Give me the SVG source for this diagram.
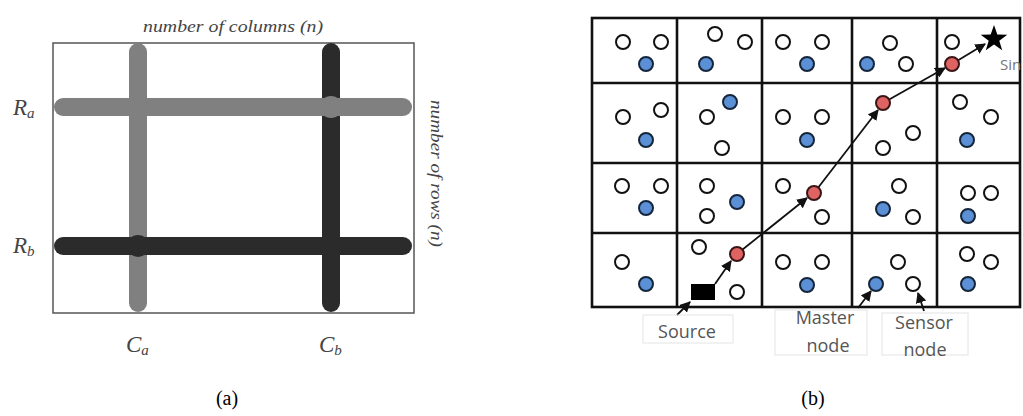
<svg xmlns="http://www.w3.org/2000/svg" width="1023" height="416" viewBox="0 0 1023 416">
<defs>
<marker id="ah" viewBox="0 0 10 10" refX="9" refY="5" markerWidth="6" markerHeight="6" orient="auto" markerUnits="strokeWidth">
<path d="M0,0 L10,5 L0,10 Z" fill="#111"/>
</marker>
<style>
.frame{fill:none;stroke:#555;stroke-width:1.5}
.barg{stroke:#808080;stroke-width:18;stroke-linecap:round}
.bard{stroke:#2b2b2b;stroke-width:18;stroke-linecap:round}
.lbl{font-family:"Liberation Serif",serif;font-style:italic;fill:#444}
.cap{font-family:"Liberation Serif",serif;font-size:20px;fill:#000;text-anchor:middle}
.grid{fill:none;stroke:#111;stroke-width:2.6}
.s{fill:#fff;stroke:#111;stroke-width:2}
.m{fill:#5b8fd6;stroke:#15253a;stroke-width:2}
.r{fill:#e06363;stroke:#3a1515;stroke-width:2}
.hop{stroke:#111;stroke-width:1.8;fill:none;marker-end:url(#ah)}
.txt{font-family:"Open Sans",sans-serif;font-size:18px;fill:#555;text-anchor:middle}
.box{fill:none;stroke:#e4e4e4;stroke-width:1}
</style>
</defs>

<!-- Panel (a) -->
<g id="panel-a">
<rect class="frame" x="53" y="43" width="361" height="270"/>
<g id="col-b"><line class="bard" x1="331" y1="52" x2="331" y2="303"/></g>
<g id="col-a"><line class="barg" x1="138" y1="52" x2="138" y2="303"/></g>
<g id="row-a"><line class="barg" x1="63" y1="107" x2="403" y2="107"/><circle cx="331" cy="107" r="11" fill="#808080"/></g>
<g id="row-b"><line class="bard" x1="63" y1="246" x2="403" y2="246"/><circle cx="138" cy="246" r="11" fill="#2b2b2b"/></g>
<text class="lbl" x="233" y="32" font-size="17" text-anchor="middle" textLength="180" lengthAdjust="spacingAndGlyphs" fill="#333">number of columns (n)</text>
<text class="lbl" transform="translate(431,100) rotate(90)" font-size="17" textLength="147" lengthAdjust="spacingAndGlyphs">number of rows (n)</text>
<text class="lbl" x="13" y="115" font-size="23">R<tspan font-size="15" dy="3">a</tspan></text>
<text class="lbl" x="13" y="253" font-size="23">R<tspan font-size="15" dy="3">b</tspan></text>
<text class="lbl" x="126" y="352" font-size="23">C<tspan font-size="15" dy="3">a</tspan></text>
<text class="lbl" x="319" y="352" font-size="23">C<tspan font-size="15" dy="3">b</tspan></text>
<text class="cap" x="227" y="405">(a)</text>
</g>

<!-- Panel (b) -->
<g id="grid">
<rect class="grid" x="592" y="18" width="428" height="289"/>
<line class="grid" x1="677" y1="18" x2="677" y2="307"/>
<line class="grid" x1="762" y1="18" x2="762" y2="307"/>
<line class="grid" x1="852" y1="18" x2="852" y2="307"/>
<line class="grid" x1="937" y1="18" x2="937" y2="307"/>
<line class="grid" x1="592" y1="83" x2="1020" y2="83"/>
<line class="grid" x1="592" y1="163" x2="1020" y2="163"/>
<line class="grid" x1="592" y1="233" x2="1020" y2="233"/>
</g>

<g id="connectors">
<line class="hop" x1="715" y1="284" x2="731" y2="261"/>
<line class="hop" x1="737" y1="254" x2="807" y2="198"/>
<line class="hop" x1="814" y1="193" x2="878" y2="110"/>
<line class="hop" x1="883" y1="103" x2="945" y2="68"/>
<line class="hop" x1="952" y1="64" x2="985" y2="44"/>
<line class="hop" x1="677" y1="315" x2="690" y2="302"/>
<line class="hop" x1="858" y1="308" x2="871" y2="291"/>
<line class="hop" x1="924" y1="311" x2="918" y2="293"/>
</g>

<g id="cell-1-1"><circle class="s" cx="623" cy="42" r="7"/><circle class="s" cx="661" cy="42" r="7"/><circle class="m" cx="646" cy="64" r="7"/></g>
<g id="cell-1-2"><circle class="s" cx="715" cy="34" r="7"/><circle class="s" cx="745" cy="42" r="7"/><circle class="m" cx="706" cy="64" r="7"/></g>
<g id="cell-1-3"><circle class="s" cx="783" cy="42" r="7"/><circle class="s" cx="822" cy="42" r="7"/><circle class="m" cx="807" cy="64" r="7"/></g>
<g id="cell-1-4"><circle class="s" cx="890" cy="43" r="7"/><circle class="m" cx="867" cy="64" r="7"/><circle class="s" cx="906" cy="64" r="7"/></g>
<g id="cell-1-5"><circle class="s" cx="952" cy="42" r="7"/><circle class="r" cx="952" cy="64" r="7"/></g>

<g id="cell-2-1"><circle class="s" cx="623" cy="117" r="7"/><circle class="s" cx="661" cy="110" r="7"/><circle class="m" cx="646" cy="140" r="7"/></g>
<g id="cell-2-2"><circle class="s" cx="707" cy="117" r="7"/><circle class="m" cx="730" cy="102" r="7"/><circle class="s" cx="722" cy="148" r="7"/></g>
<g id="cell-2-3"><circle class="s" cx="783" cy="117" r="7"/><circle class="s" cx="822" cy="117" r="7"/><circle class="m" cx="807" cy="140" r="7"/></g>
<g id="cell-2-4"><circle class="r" cx="883" cy="103" r="7"/><circle class="s" cx="913" cy="133" r="7"/><circle class="s" cx="883" cy="148" r="7"/></g>
<g id="cell-2-5"><circle class="s" cx="960" cy="102" r="7"/><circle class="s" cx="991" cy="117" r="7"/><circle class="m" cx="967" cy="140" r="7"/></g>

<g id="cell-3-1"><circle class="s" cx="622" cy="186" r="7"/><circle class="s" cx="661" cy="186" r="7"/><circle class="m" cx="646" cy="208" r="7"/></g>
<g id="cell-3-2"><circle class="s" cx="707" cy="186" r="7"/><circle class="m" cx="737" cy="202" r="7"/><circle class="s" cx="707" cy="216" r="7"/></g>
<g id="cell-3-3"><circle class="s" cx="783" cy="186" r="7"/><circle class="r" cx="814" cy="193" r="7"/><circle class="s" cx="822" cy="217" r="7"/></g>
<g id="cell-3-4"><circle class="s" cx="899" cy="186" r="7"/><circle class="m" cx="883" cy="209" r="7"/><circle class="s" cx="913" cy="217" r="7"/></g>
<g id="cell-3-5"><circle class="s" cx="968" cy="193" r="7"/><circle class="s" cx="991" cy="193" r="7"/><circle class="m" cx="968" cy="216" r="7"/></g>

<g id="cell-4-1"><circle class="s" cx="622" cy="262" r="7"/><circle class="m" cx="646" cy="284" r="7"/></g>
<g id="cell-4-2"><circle class="s" cx="699" cy="247" r="7"/><circle class="r" cx="737" cy="254" r="7"/><circle class="s" cx="737" cy="292" r="7"/></g>
<g id="cell-4-3"><circle class="s" cx="783" cy="262" r="7"/><circle class="s" cx="822" cy="262" r="7"/><circle class="m" cx="807" cy="285" r="7"/></g>
<g id="cell-4-4"><circle class="s" cx="898" cy="262" r="7"/><circle class="m" cx="876" cy="284" r="7"/><circle class="s" cx="913" cy="284" r="7"/></g>
<g id="cell-4-5"><circle class="s" cx="967" cy="254" r="7"/><circle class="s" cx="991" cy="262" r="7"/><circle class="m" cx="968" cy="284" r="7"/></g>

<g id="source-node"><rect x="691" y="284" width="24" height="16" fill="#000"/></g>
<g id="sink-node">
<polygon points="994,25 997.3,34.5 1007.3,34.7 999.3,40.8 1002.2,50.3 994,44.6 985.8,50.3 988.7,40.8 980.7,34.7 990.7,34.5" fill="#000"/>
<text x="1000" y="70" font-family="Open Sans, sans-serif" font-size="15" fill="#777">Sin</text>
</g>

<g id="label-source"><rect class="box" x="643" y="315" width="90" height="28"/><text class="txt" x="687" y="338">Source</text></g>
<g id="label-master"><rect class="box" x="775" y="310" width="92" height="45"/><text class="txt" x="825" y="324">Master</text><text class="txt" x="828" y="352">node</text></g>
<g id="label-sensor"><rect class="box" x="882" y="313" width="86" height="42"/><text class="txt" x="924" y="329">Sensor</text><text class="txt" x="925" y="356">node</text></g>
<text class="cap" x="813" y="405">(b)</text>
</svg>
